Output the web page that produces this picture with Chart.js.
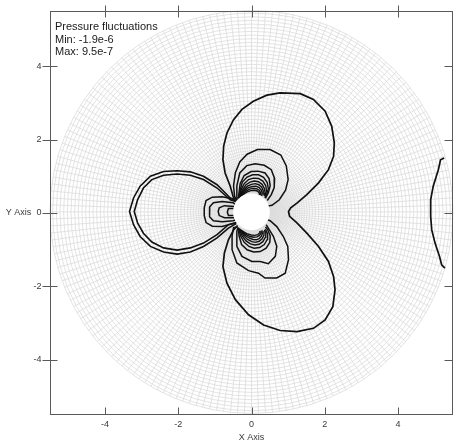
<!DOCTYPE html>
<html>
<head>
<meta charset="utf-8">
<script src="https://cdn.jsdelivr.net/npm/chart.js@4/dist/chart.umd.min.js"></script>
<style>
  html, body { margin: 0; padding: 0; background: #fff; }
  #wrap { width: 455px; height: 442px; }
</style>
</head>
<body>
<div id="wrap"><canvas id="c" width="455" height="442"></canvas></div>
<script>
// ---- text and ticks ----
const titleLines = ["Pressure fluctuations", "Min: -1.9e-6", "Max: 9.5e-7"];
const xTicks = [-4, -2, 0, 2, 4];
const yTicks = [-4, -2, 0, 2, 4];
const xTickLabels = ["-4", "-2", "0", "2", "4"];
const yTickLabels = ["-4", "-2", "0", "2", "4"];
const xAxisTitle = "X Axis";
const yAxisTitle = "Y Axis";

// ---- contour lines, [x, y] in axis units ----
const lobeRight = [[-0.38,0.36],[-0.49,0.41],[-0.58,0.73],[-0.72,1.09],[-0.78,1.45],[-0.76,1.82],[-0.67,2.18],[-0.49,2.54],[-0.26,2.82],[0.05,3.04],[0.42,3.21],[0.78,3.27],[1.33,3.25],[1.69,3.09],[2.01,2.77],[2.19,2.36],[2.26,1.91],[2.24,1.54],[2.10,1.18],[1.83,0.82],[1.51,0.50],[1.24,0.27],[1.07,0.14],[1.01,0.04],[1.04,-0.09],[1.24,-0.27],[1.51,-0.55],[1.83,-0.91],[2.10,-1.32],[2.24,-1.73],[2.28,-2.09],[2.22,-2.55],[2.01,-2.91],[1.69,-3.14],[1.24,-3.23],[0.78,-3.20],[0.33,-3.05],[-0.08,-2.77],[-0.44,-2.36],[-0.67,-1.91],[-0.78,-1.46],[-0.74,-1.09],[-0.63,-0.73],[-0.49,-0.46],[-0.38,-0.34]];

const lobeLeftOuter = [[-0.42,0.33],[-0.58,0.41],[-0.94,0.77],[-1.31,1.00],[-1.67,1.12],[-2.03,1.15],[-2.40,1.13],[-2.76,1.00],[-3.04,0.73],[-3.22,0.41],[-3.33,0.04],[-3.22,-0.32],[-3.04,-0.64],[-2.76,-0.91],[-2.40,-1.06],[-2.03,-1.12],[-1.67,-1.06],[-1.31,-0.91],[-0.94,-0.68],[-0.63,-0.41],[-0.42,-0.29]];
const lobeLeftInner = [[-0.43,0.31],[-0.58,0.36],[-0.94,0.68],[-1.31,0.91],[-1.67,1.03],[-2.03,1.06],[-2.40,1.03],[-2.72,0.91],[-2.95,0.68],[-3.11,0.36],[-3.20,0.04],[-3.11,-0.27],[-2.95,-0.55],[-2.72,-0.79],[-2.40,-0.95],[-2.03,-1.01],[-1.67,-0.95],[-1.31,-0.82],[-0.94,-0.59],[-0.63,-0.32],[-0.43,-0.27]];

const wakeLeft1 = [[-0.41,0.33],[-0.53,0.39],[-0.80,0.44],[-1.07,0.43],[-1.24,0.34],[-1.29,0.14],[-1.29,-0.07],[-1.24,-0.26],[-1.07,-0.36],[-0.80,-0.37],[-0.53,-0.29],[-0.41,-0.26]];
const wakeLeft2 = [[-0.45,0.24],[-0.50,0.28],[-0.80,0.31],[-1.04,0.28],[-1.14,0.17],[-1.15,0.04],[-1.14,-0.10],[-1.04,-0.21],[-0.80,-0.24],[-0.50,-0.21],[-0.45,-0.19]];
const wakeLeft3 = [[-0.47,0.18],[-0.74,0.20],[-0.88,0.14],[-0.91,0.04],[-0.88,-0.07],[-0.74,-0.13],[-0.47,-0.13]];
const wakeLeft4 = [[-0.49,0.12],[-0.63,0.12],[-0.66,0.02],[-0.63,-0.07],[-0.49,-0.07]];

const upper1 = [[-0.40,0.38],[-0.46,0.44],[-0.49,0.74],[-0.44,1.10],[-0.32,1.39],[-0.12,1.60],[0.16,1.73],[0.51,1.73],[0.80,1.58],[0.95,1.28],[1.00,0.91],[0.93,0.62],[0.76,0.36],[0.56,0.21],[0.45,0.19]];
const upper2 = [[-0.38,0.39],[-0.40,0.44],[-0.40,0.74],[-0.32,1.09],[-0.13,1.29],[0.10,1.34],[0.35,1.30],[0.54,1.18],[0.63,0.94],[0.62,0.69],[0.54,0.50],[0.43,0.34]];
const upper3 = [[-0.36,0.40],[-0.35,0.47],[-0.31,0.80],[-0.20,1.02],[-0.01,1.13],[0.18,1.14],[0.37,1.09],[0.48,0.94],[0.51,0.74],[0.46,0.55],[0.38,0.40]];
const upper4 = [[-0.35,0.41],[-0.31,0.62],[-0.25,0.84],[-0.12,0.98],[0.03,1.04],[0.19,1.04],[0.33,0.97],[0.43,0.83],[0.46,0.66],[0.41,0.50],[0.36,0.42]];
const upper5 = [[-0.34,0.42],[-0.28,0.64],[-0.20,0.80],[-0.08,0.91],[0.05,0.95],[0.19,0.94],[0.31,0.87],[0.39,0.74],[0.41,0.60],[0.36,0.46]];
const upper6 = [[-0.33,0.43],[-0.25,0.63],[-0.15,0.77],[-0.04,0.84],[0.07,0.87],[0.19,0.85],[0.29,0.78],[0.35,0.67],[0.37,0.56],[0.34,0.47]];
const upper7 = [[-0.32,0.44],[-0.22,0.62],[-0.11,0.73],[0.00,0.78],[0.10,0.80],[0.20,0.77],[0.28,0.70],[0.32,0.61],[0.32,0.50]];
const upper8 = [[-0.31,0.45],[-0.19,0.61],[-0.08,0.69],[0.03,0.72],[0.12,0.73],[0.21,0.69],[0.27,0.62],[0.29,0.54],[0.28,0.46]];
const upper9 = [[-0.30,0.46],[-0.16,0.59],[-0.05,0.65],[0.05,0.67],[0.14,0.66],[0.21,0.62],[0.25,0.55],[0.25,0.48]];
const upper10 = [[-0.28,0.47],[-0.13,0.57],[-0.02,0.61],[0.08,0.62],[0.16,0.60],[0.21,0.55],[0.22,0.49]];

const lower1 = [[-0.38,-0.38],[-0.49,-0.40],[-0.53,-0.62],[-0.53,-1.00],[-0.40,-1.36],[-0.08,-1.57],[0.19,-1.64],[0.37,-1.77],[0.69,-1.77],[0.92,-1.64],[1.01,-1.27],[0.99,-0.91],[0.87,-0.64],[0.69,-0.37],[0.51,-0.21],[0.45,-0.19]];
const lower2 = [[-0.37,-0.39],[-0.40,-0.50],[-0.40,-0.91],[-0.26,-1.18],[0.01,-1.32],[0.24,-1.32],[0.46,-1.38],[0.65,-1.18],[0.69,-0.91],[0.60,-0.64],[0.46,-0.41],[0.40,-0.32]];
const lower3 = [[-0.36,-0.40],[-0.34,-0.62],[-0.27,-0.86],[-0.12,-1.00],[0.06,-1.06],[0.24,-1.05],[0.40,-0.96],[0.50,-0.80],[0.51,-0.62],[0.44,-0.45],[0.38,-0.38]];
const lower4 = [[-0.35,-0.41],[-0.30,-0.62],[-0.20,-0.80],[-0.07,-0.91],[0.07,-0.96],[0.22,-0.94],[0.35,-0.86],[0.43,-0.72],[0.44,-0.57],[0.38,-0.44]];
const lower5 = [[-0.34,-0.42],[-0.26,-0.62],[-0.15,-0.76],[-0.03,-0.84],[0.09,-0.87],[0.21,-0.85],[0.31,-0.78],[0.38,-0.66],[0.39,-0.54],[0.35,-0.46]];
const lower6 = [[-0.33,-0.43],[-0.22,-0.61],[-0.11,-0.72],[0.01,-0.78],[0.11,-0.80],[0.21,-0.77],[0.29,-0.70],[0.34,-0.60],[0.34,-0.49]];
const lower7 = [[-0.32,-0.44],[-0.19,-0.60],[-0.07,-0.68],[0.04,-0.72],[0.13,-0.73],[0.21,-0.70],[0.27,-0.63],[0.30,-0.55],[0.29,-0.47]];
const lower8 = [[-0.30,-0.46],[-0.16,-0.58],[-0.04,-0.64],[0.06,-0.66],[0.15,-0.65],[0.22,-0.61],[0.26,-0.55],[0.26,-0.48]];
const lower9 = [[-0.28,-0.47],[-0.13,-0.56],[-0.01,-0.60],[0.09,-0.61],[0.17,-0.59],[0.22,-0.54],[0.23,-0.49]];

const farRight = [[5.26,1.50],[5.16,1.45],[5.10,1.18],[4.96,0.73],[4.89,0.36],[4.89,-0.09],[4.92,-0.46],[5.01,-0.82],[5.13,-1.18],[5.19,-1.41],[5.28,-1.50]];

// the main lobes are drawn a little heavier than the inner levels
const contours = [
  { pts: lobeRight, w: 1.7 }, { pts: lobeLeftOuter, w: 1.6 }, { pts: lobeLeftInner, w: 1.6 },
  { pts: wakeLeft1, w: 1.5 }, { pts: wakeLeft2, w: 1.5 }, { pts: wakeLeft3, w: 1.5 }, { pts: wakeLeft4, w: 1.5 },
  { pts: upper1, w: 1.5 }, { pts: upper2, w: 1.5 }, { pts: upper3, w: 1.5 }, { pts: upper4, w: 1.4 },
  { pts: upper5, w: 1.4 }, { pts: upper6, w: 1.4 }, { pts: upper7, w: 1.4 }, { pts: upper8, w: 1.4 },
  { pts: upper9, w: 1.4 }, { pts: upper10, w: 1.4 },
  { pts: lower1, w: 1.5 }, { pts: lower2, w: 1.5 }, { pts: lower3, w: 1.5 }, { pts: lower4, w: 1.4 },
  { pts: lower5, w: 1.4 }, { pts: lower6, w: 1.4 }, { pts: lower7, w: 1.4 }, { pts: lower8, w: 1.4 },
  { pts: lower9, w: 1.4 },
  { pts: farRight, w: 1.7 }
];

// ---- polar computational mesh around the cylinder ----
const MESH = { cx: 0, cy: 0.03, rIn: 0.5, rOut: 5.5, spokes: 180, dr0: 0.012, drMax: 0.1, growth: 1.06 };

const meshPlugin = {
  id: 'polarMesh',
  beforeDatasetsDraw(chart) {
    const { ctx, scales: { x, y } } = chart;
    const cxp = x.getPixelForValue(MESH.cx);
    const cyp = y.getPixelForValue(MESH.cy);
    const unit = x.getPixelForValue(1) - x.getPixelForValue(0);
    const rings = [];
    let r = MESH.rIn, dr = MESH.dr0;
    while (r < MESH.rOut) {
      rings.push(r);
      r += dr;
      dr = Math.min(dr * MESH.growth, MESH.drMax);
    }
    rings.push(MESH.rOut);
    ctx.save();
    ctx.strokeStyle = '#dcdcdc';
    ctx.lineWidth = 0.8;
    ctx.beginPath();
    rings.forEach(rr => {
      ctx.moveTo(cxp + rr * unit, cyp);
      ctx.arc(cxp, cyp, rr * unit, 0, Math.PI * 2);
    });
    for (let k = 0; k < MESH.spokes; k++) {
      const a = k * 2 * Math.PI / MESH.spokes;
      const c = Math.cos(a), s = Math.sin(a);
      ctx.moveTo(cxp + MESH.rIn * unit * c, cyp - MESH.rIn * unit * s);
      ctx.lineTo(cxp + MESH.rOut * unit * c, cyp - MESH.rOut * unit * s);
    }
    ctx.stroke();
    ctx.restore();
  }
};

// ---- cylinder, frame, ticks, labels, title text ----
const overlayPlugin = {
  id: 'frameOverlay',
  afterDatasetsDraw(chart) {
    const { ctx, chartArea: a, scales: { x, y } } = chart;
    const unit = x.getPixelForValue(1) - x.getPixelForValue(0);
    ctx.save();
    // cylinder body
    ctx.fillStyle = '#ffffff';
    ctx.beginPath();
    ctx.arc(x.getPixelForValue(MESH.cx), y.getPixelForValue(MESH.cy), MESH.rIn * unit, 0, Math.PI * 2);
    ctx.fill();

    // frame
    const L = Math.round(a.left) + 0.5, R = Math.round(a.right) - 0.5;
    const T = Math.round(a.top) + 0.5, B = Math.round(a.bottom) - 0.5;
    ctx.strokeStyle = '#5a5a5a';
    ctx.lineWidth = 1;
    ctx.strokeRect(L, T, R - L, B - T);

    // tick marks
    ctx.beginPath();
    xTicks.forEach(v => {
      const p = Math.round(x.getPixelForValue(v)) + 0.5;
      ctx.moveTo(p, B); ctx.lineTo(p, B - 7);
      ctx.moveTo(p, T - 6); ctx.lineTo(p, T + 6);
    });
    yTicks.forEach(v => {
      const p = Math.round(y.getPixelForValue(v)) + 0.5;
      ctx.moveTo(L - 8, p); ctx.lineTo(L + 7, p);
      ctx.moveTo(R - 8, p); ctx.lineTo(R, p);
    });
    ctx.stroke();

    // tick labels and axis titles
    ctx.fillStyle = '#3a3a3a';
    ctx.font = '9px "Liberation Sans", Arial, sans-serif';
    ctx.textBaseline = 'middle';
    ctx.textAlign = 'center';
    xTicks.forEach((v, i) => ctx.fillText(xTickLabels[i], x.getPixelForValue(v), B + 10));
    ctx.fillText(xAxisTitle, (a.left + a.right) / 2, B + 23);
    ctx.textAlign = 'right';
    yTicks.forEach((v, i) => ctx.fillText(yTickLabels[i], L - 9, y.getPixelForValue(v)));
    ctx.textAlign = 'center';
    ctx.fillText(yAxisTitle, 18.5, y.getPixelForValue(0));

    // annotation block
    ctx.fillStyle = '#1a1a1a';
    ctx.font = '11px "Liberation Sans", Arial, sans-serif';
    ctx.textAlign = 'left';
    titleLines.forEach((t, i) => ctx.fillText(t, a.left + 5, a.top + 16 + i * 12.5));
    ctx.restore();
  }
};

const toXY = pts => pts.map(([px, py]) => ({ x: px, y: py }));

new Chart(document.getElementById('c'), {
  type: 'scatter',
  data: {
    datasets: contours.map(c => ({
      data: toXY(c.pts),
      showLine: true,
      borderColor: '#111111',
      borderWidth: c.w,
      pointRadius: 0,
      tension: 0,
      fill: false
    }))
  },
  options: {
    responsive: false,
    animation: false,
    devicePixelRatio: 1,
    events: [],
    layout: { padding: { left: 50, right: 2, top: 11, bottom: 27 } },
    scales: {
      x: { type: 'linear', min: -5.5, max: 5.5, display: false },
      y: { type: 'linear', min: -5.5, max: 5.5, display: false }
    },
    plugins: { legend: { display: false }, tooltip: { enabled: false }, title: { display: false } }
  },
  plugins: [meshPlugin, overlayPlugin]
});
</script>
</body>
</html>
